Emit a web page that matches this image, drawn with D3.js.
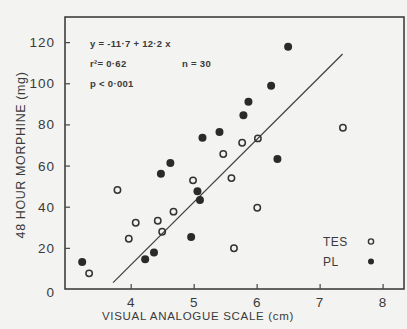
<!DOCTYPE html>
<html lang="en">
<head>
    <meta charset="UTF-8">
    <title>Morphine vs VAS</title>
    <script src="https://d3js.org/d3.v7.min.js"></script>
    <style>
        body{ margin: 0; background-color: #f3f3f1; }
        svg text{ font-family: "Liberation Sans", Arial, sans-serif; fill: #3a3a3a; }
    </style>
</head>
<body>
    <svg id="canvas" width="407" height="329"></svg>
    <script>
        // TES group (open circles): [vas cm, morphine mg]
        let tesPoints = [
            [3.34, 7.6], [3.79, 48.1], [3.97, 24.4], [4.08, 32.2], [4.43, 33.2],
            [4.50, 27.8], [4.68, 37.6], [4.99, 52.8], [5.47, 65.6], [5.60, 53.9],
            [5.64, 19.8], [5.77, 71.1], [6.02, 73.2], [6.01, 39.5], [7.37, 78.4]
        ];
        // PL group (filled circles)
        let plPoints = [
            [3.23, 13.1], [4.23, 14.4], [4.37, 17.8], [4.48, 56.0], [4.63, 61.2],
            [4.96, 25.3], [5.06, 47.5], [5.10, 43.2], [5.14, 73.5], [5.41, 76.3],
            [5.79, 84.5], [5.87, 91.0], [6.23, 98.8], [6.50, 117.7], [6.33, 63.2]
        ];
        // regression line as drawn
        let fitLine = [[3.72, 3.1], [7.365, 114.2]];
        let xTicks = [4, 5, 6, 7, 8];
        let yTicks = [0, 20, 40, 60, 80, 100, 120];
        let statsText = ["y = -11·7 + 12·2 x", "r²= 0·62", "p < 0·001"];

        let svg = d3.select('#canvas');
        let plotL = 65, plotR = 404, plotT = 17, plotB = 289;

        let x = d3.scaleLinear().domain([2.957, 8.34]).range([plotL, plotR]);
        let y = d3.scaleLinear().domain([0, 132.2]).range([plotB, plotT]);

        // frame
        svg.append('rect')
            .attr('x', plotL).attr('y', plotT)
            .attr('width', plotR - plotL).attr('height', plotB - plotT)
            .attr('fill', 'none')
            .attr('stroke', '#333')
            .attr('stroke-width', 1.5);

        // x axis, inward ticks
        let xAxis = svg.append('g')
            .attr('transform', 'translate(0,' + plotB + ')')
            .call(d3.axisTop(x).tickValues(xTicks).tickSize(5).tickFormat(''));
        xAxis.select('.domain').remove();
        xAxis.selectAll('line').attr('stroke', '#444').attr('stroke-width', 1.2);
        svg.selectAll('.xlab')
            .data(xTicks)
            .enter()
            .append('text')
            .attr('class', 'xlab')
            .attr('x', d => x(d))
            .attr('y', 307)
            .attr('text-anchor', 'middle')
            .style('font-size', '13.5px')
            .text(d => d);

        // y axis, inward ticks
        let yAxis = svg.append('g')
            .attr('transform', 'translate(' + plotL + ',0)')
            .call(d3.axisRight(y).tickValues(yTicks.filter(d => d > 0)).tickSize(5).tickFormat(''));
        yAxis.select('.domain').remove();
        yAxis.selectAll('line').attr('stroke', '#444').attr('stroke-width', 1.2);
        svg.selectAll('.ylab')
            .data(yTicks)
            .enter()
            .append('text')
            .attr('class', 'ylab')
            .attr('x', 55)
            .attr('y', d => d == 0 ? y(d) + 8 : y(d) + 5)
            .attr('text-anchor', 'end')
            .style('font-size', '13.5px')
            .style('letter-spacing', '1px')
            .text(d => d);

        // axis titles
        svg.append('text')
            .attr('x', 198).attr('y', 320)
            .attr('text-anchor', 'middle')
            .style('font-size', '11.5px')
            .style('letter-spacing', '0.7px')
            .text('VISUAL ANALOGUE SCALE (cm)');
        svg.append('text')
            .attr('transform', 'translate(25,155) rotate(-90)')
            .attr('text-anchor', 'middle')
            .style('font-size', '12.5px')
            .style('letter-spacing', '0.6px')
            .text('48 HOUR MORPHINE (mg)');

        // stats text
        svg.selectAll('.stat')
            .data(statsText)
            .enter()
            .append('text')
            .attr('class', 'stat')
            .attr('x', 90)
            .attr('y', (d, i) => 47 + i * 20)
            .style('font-size', '9.5px')
            .style('font-weight', 'bold')
            .style('letter-spacing', '0.3px')
            .text(d => d);
        svg.append('text')
            .attr('x', 182).attr('y', 67)
            .style('font-size', '9.5px')
            .style('font-weight', 'bold')
            .style('letter-spacing', '0.3px')
            .text('n = 30');

        // regression line
        svg.append('path')
            .datum(fitLine)
            .attr('d', d3.line().x(d => x(d[0])).y(d => y(d[1])))
            .attr('stroke', '#444')
            .attr('stroke-width', 1.3)
            .attr('fill', 'none');

        // points
        svg.selectAll('.tes')
            .data(tesPoints)
            .enter()
            .append('circle')
            .attr('class', 'tes')
            .attr('cx', d => x(d[0]))
            .attr('cy', d => y(d[1]))
            .attr('r', 3.2)
            .attr('fill', 'none')
            .attr('stroke', '#333')
            .attr('stroke-width', 1.5);
        svg.selectAll('.pl')
            .data(plPoints)
            .enter()
            .append('circle')
            .attr('class', 'pl')
            .attr('cx', d => x(d[0]))
            .attr('cy', d => y(d[1]))
            .attr('r', 4)
            .attr('fill', '#2a2a2a');

        // legend
        let legend = [['TES', false], ['PL', true]];
        legend.forEach(function(l, i){
            svg.append('text')
                .attr('x', 323).attr('y', 246 + i * 20)
                .style('font-size', '12px')
                .style('letter-spacing', '0.5px')
                .text(l[0]);
            svg.append('circle')
                .attr('cx', 371).attr('cy', 241.5 + i * 20)
                .attr('r', l[1] ? 3 : 2.6)
                .attr('fill', l[1] ? '#2a2a2a' : 'none')
                .attr('stroke', l[1] ? 'none' : '#333')
                .attr('stroke-width', 1.4);
        });
    </script>
</body>
</html>
